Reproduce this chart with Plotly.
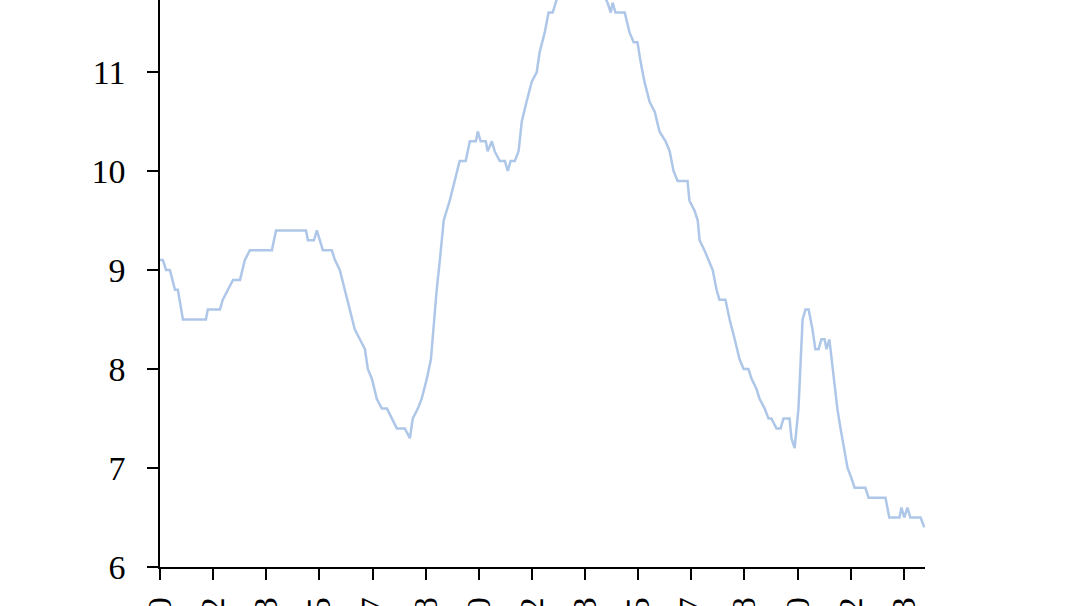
import plotly.graph_objects as go

years = [2000.00, 2000.09, 2000.19, 2000.31, 2000.47, 2000.56, 2000.72, 2001.44, 2001.50, 2001.88,
         2001.97, 2002.13, 2002.29, 2002.51, 2002.66, 2002.82, 2003.51, 2003.64, 2004.58, 2004.64,
         2004.83, 2004.92, 2005.02, 2005.11, 2005.39, 2005.49, 2005.64, 2005.80, 2005.96, 2006.11,
         2006.27, 2006.43, 2006.52, 2006.65, 2006.80, 2006.96, 2007.12, 2007.27, 2007.43, 2007.68,
         2007.84, 2007.93, 2008.09, 2008.21, 2008.37, 2008.50, 2008.59, 2008.68, 2008.78, 2008.90,
         2009.09, 2009.25, 2009.40, 2009.59, 2009.72, 2009.91, 2009.97, 2010.06, 2010.22, 2010.28,
         2010.41, 2010.50, 2010.66, 2010.82, 2010.91, 2011.00, 2011.13, 2011.25, 2011.35, 2011.50,
         2011.66, 2011.82, 2011.91, 2012.07, 2012.19, 2012.32, 2012.41, 2012.60, 2012.85, 2013.17,
         2013.42, 2013.67, 2013.89, 2014.04, 2014.14, 2014.20, 2014.29, 2014.58, 2014.73, 2014.86,
         2014.98, 2015.08, 2015.20, 2015.36, 2015.52, 2015.67, 2015.86, 2015.99, 2016.11, 2016.24,
         2016.55, 2016.61, 2016.77, 2016.87, 2016.93, 2017.08, 2017.21, 2017.34, 2017.46, 2017.55,
         2017.74, 2017.87, 2018.03, 2018.18, 2018.31, 2018.46, 2018.56, 2018.71, 2018.81, 2018.97,
         2019.09, 2019.18, 2019.34, 2019.47, 2019.56, 2019.75, 2019.81, 2019.91, 2020.03, 2020.16,
         2020.25, 2020.35, 2020.47, 2020.56, 2020.66, 2020.75, 2020.85, 2020.91, 2021.00, 2021.07,
         2021.16, 2021.25, 2021.35, 2021.47, 2021.57, 2021.69, 2021.79, 2022.13, 2022.23, 2022.76,
         2022.88, 2023.20, 2023.26, 2023.35, 2023.45, 2023.54, 2023.86, 2023.98]

values = [9.1, 9.1, 9.0, 9.0, 8.8, 8.8, 8.5, 8.5, 8.6, 8.6,
          8.7, 8.8, 8.9, 8.9, 9.1, 9.2, 9.2, 9.4, 9.4, 9.3,
          9.3, 9.4, 9.3, 9.2, 9.2, 9.1, 9.0, 8.8, 8.6, 8.4,
          8.3, 8.2, 8.0, 7.9, 7.7, 7.6, 7.6, 7.5, 7.4, 7.4,
          7.3, 7.5, 7.6, 7.7, 7.9, 8.1, 8.5, 8.8, 9.1, 9.5,
          9.7, 9.9, 10.1, 10.1, 10.3, 10.3, 10.4, 10.3, 10.3, 10.2,
          10.3, 10.2, 10.1, 10.1, 10.0, 10.1, 10.1, 10.2, 10.5, 10.7,
          10.9, 11.0, 11.2, 11.4, 11.6, 11.6, 11.7, 11.9, 12.0, 12.1,
          12.0, 11.9, 11.8, 11.7, 11.6, 11.7, 11.6, 11.6, 11.4, 11.3,
          11.3, 11.1, 10.9, 10.7, 10.6, 10.4, 10.3, 10.2, 10.0, 9.9,
          9.9, 9.7, 9.6, 9.5, 9.3, 9.2, 9.1, 9.0, 8.8, 8.7,
          8.7, 8.5, 8.3, 8.1, 8.0, 8.0, 7.9, 7.8, 7.7, 7.6,
          7.5, 7.5, 7.4, 7.4, 7.5, 7.5, 7.3, 7.2, 7.6, 8.5,
          8.6, 8.6, 8.4, 8.2, 8.2, 8.3, 8.3, 8.2, 8.3, 8.1,
          7.8, 7.6, 7.4, 7.2, 7.0, 6.9, 6.8, 6.8, 6.7, 6.7,
          6.5, 6.5, 6.6, 6.5, 6.6, 6.5, 6.5, 6.4]

x_tick_vals = [2000.0, 2001.6667, 2003.3333, 2005.0, 2006.6667, 2008.3333, 2010.0, 2011.6667,
               2013.3333, 2015.0, 2016.6667, 2018.3333, 2020.0, 2021.6667, 2023.3333]
x_tick_labels = ["2000", "2002", "2003", "2005", "2007", "2008", "2010", "2012",
                 "2013", "2015", "2017", "2018", "2020", "2022", "2023"]
y_tick_vals = [6, 7, 8, 9, 10, 11]
y_tick_labels = ["6", "7", "8", "9", "10", "11"]

fig = go.Figure()
fig.add_trace(go.Scatter(x=years, y=values, mode="lines",
                         line=dict(color="#aec7e8", width=2.5), showlegend=False))

font = dict(family="Liberation Serif", size=34, color="black")

fig.update_layout(
    width=1078, height=606,
    margin=dict(l=160, r=153, t=0, b=39),
    paper_bgcolor="white", plot_bgcolor="white",
    font=font,
    xaxis=dict(range=[2000, 2024], tickmode="array", tickvals=x_tick_vals, ticktext=x_tick_labels,
               tickangle=-90, ticks="outside", ticklen=11, tickwidth=1.5, tickcolor="black",
               showline=True, linecolor="black", linewidth=1.5, showgrid=False, zeroline=False,
               tickfont=font, automargin=False, ticklabelstandoff=4),
    yaxis=dict(range=[6, 6 + 567 / 99], tickmode="array", tickvals=y_tick_vals, ticktext=y_tick_labels,
               ticks="outside", ticklen=11, tickwidth=1.5, tickcolor="black",
               showline=True, linecolor="black", linewidth=1.5, showgrid=False, zeroline=False,
               tickfont=font, automargin=False, ticklabelstandoff=15),
)

fig.write_html("out.html", config={"displayModeBar": False},
               post_script="document.body.style.margin='0';document.body.style.overflow='hidden';")
